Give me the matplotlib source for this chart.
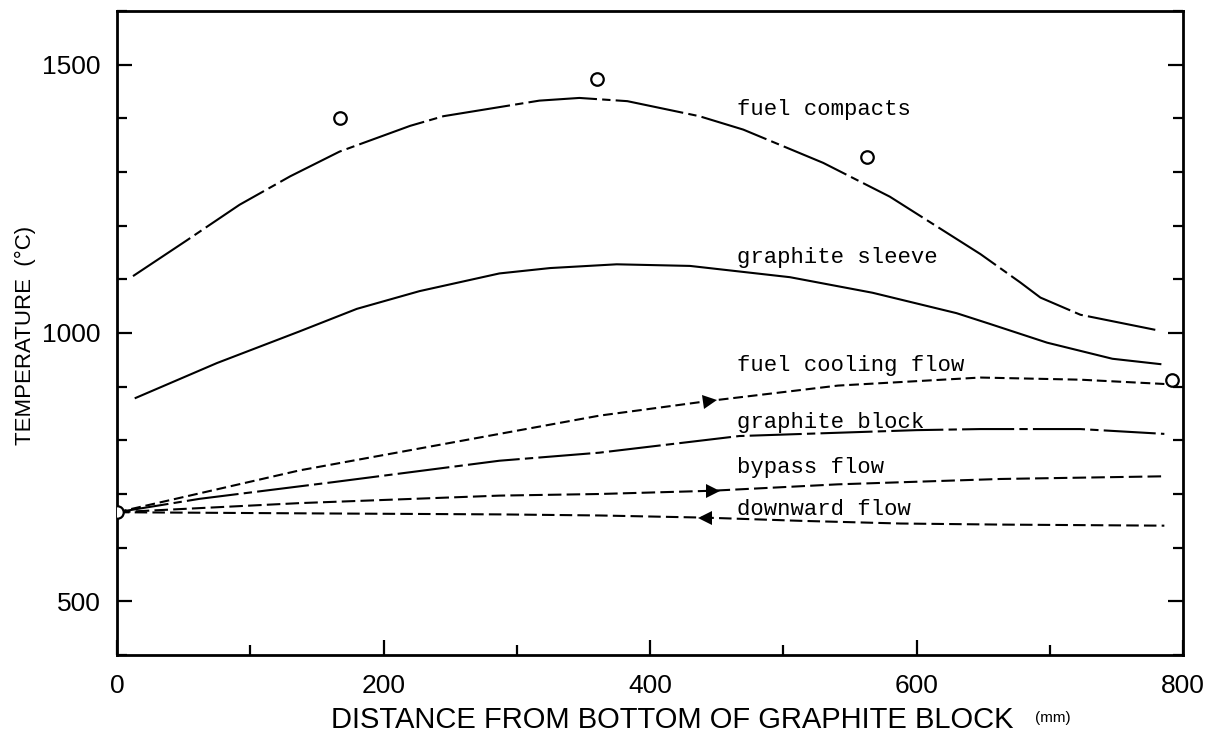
import numpy as np
import matplotlib
matplotlib.use("Agg")
import matplotlib.pyplot as plt
from matplotlib.markers import MarkerStyle
from matplotlib.transforms import Affine2D

# temperature profiles along the block (mm, degC)
fuel_x = [12, 52, 92, 130, 167, 220, 245, 317, 347, 383, 437, 470, 530, 580, 648, 678, 693, 723, 783]
fuel_y = [1106, 1172, 1239, 1292, 1338, 1386, 1404, 1433, 1438, 1432, 1404, 1379, 1317, 1254, 1147, 1094, 1066, 1034, 1004]

sleeve_x = [14, 75, 137, 180, 227, 287, 325, 375, 430, 505, 567, 630, 655, 698, 747, 783]
sleeve_y = [879, 944, 1003, 1045, 1078, 1111, 1121, 1128, 1125, 1104, 1075, 1037, 1017, 982, 952, 942]

cool_x = [0, 37, 137, 212, 287, 362, 443, 541, 648, 723, 786]
cool_y = [666, 687, 744, 778, 812, 846, 873, 902, 917, 913, 905]

block_x = [0, 62, 162, 287, 362, 467, 600, 648, 723, 786]
block_y = [666, 691, 722, 762, 777, 808, 819, 821, 821, 812]

bypass_x = [0, 137, 287, 362, 446, 541, 663, 786]
bypass_y = [666, 683, 697, 700, 706, 718, 728, 733]

down_x = [0, 137, 287, 362, 441, 513, 588, 663, 786]
down_y = [666, 664, 662, 660, 656, 650, 645, 643, 641]

# measured values
meas_x = [0, 167, 360, 563, 792]
meas_y = [666, 1400, 1474, 1328, 912]

fig = plt.figure(figsize=(12.14, 7.44), dpi=100)
ax = fig.add_axes([117 / 1214, 89 / 744, 1066 / 1214, 644 / 744])
ax.set_xlim(0, 800)
ax.set_ylim(400, 1600)

lw = 1.5
ax.plot(fuel_x, fuel_y, color="black", lw=lw, dashes=(33, 2.5, 4, 2.5))
ax.plot(sleeve_x, sleeve_y, color="black", lw=lw)
ax.plot(cool_x, cool_y, color="black", lw=lw, dashes=(4.7, 2.3))
ax.plot(block_x, block_y, color="black", lw=lw, dashes=(25, 2.5, 4, 2.5))
ax.plot(bypass_x, bypass_y, color="black", lw=lw, dashes=(6.5, 2.5))
ax.plot(down_x, down_y, color="black", lw=lw, dashes=(6, 2.5))

ax.plot(meas_x, meas_y, "o", ms=9, mfc="white", mec="black", mew=1.6, zorder=5)


def arrow_on(xs, ys, xa, left=False):
    ya = np.interp(xa, xs, ys)
    p0 = ax.transData.transform((xa - 10, np.interp(xa - 10, xs, ys)))
    p1 = ax.transData.transform((xa + 10, np.interp(xa + 10, xs, ys)))
    ang = np.degrees(np.arctan2(p1[1] - p0[1], p1[0] - p0[0]))
    if left:
        ang += 180
    m = MarkerStyle(">", transform=Affine2D().rotate_deg(ang))
    ax.plot([xa], [ya], marker=m, ms=10, color="black", mew=0, zorder=4)


arrow_on(cool_x, cool_y, 445)
arrow_on(bypass_x, bypass_y, 447)
arrow_on(down_x, down_y, 441, left=True)

labels = ["fuel compacts", "graphite sleeve", "fuel cooling flow",
          "graphite block", "bypass flow", "downward flow"]
label_y = [1416, 1140, 939, 834, 750, 672]
for t, yy in zip(labels, label_y):
    ax.text(465, yy, t, family="Liberation Mono", fontsize=16, va="center", ha="left")

# axes frame and ticks
for s in ax.spines.values():
    s.set_linewidth(2)
ax.set_xticks([0, 200, 400, 600, 800])
ax.set_xticks(np.arange(0, 801, 100), minor=True)
ax.set_yticks([500, 1000, 1500])
ax.set_yticks(np.arange(400, 1601, 100), minor=True)
ax.tick_params(which="both", direction="in", width=1.6, right=True, top=False)
ax.tick_params(which="major", length=11)
ax.tick_params(which="minor", length=7)
ax.tick_params(axis="x", pad=14)
ax.tick_params(axis="y", pad=12)
for lab in ax.get_xticklabels() + ax.get_yticklabels():
    lab.set_family("Liberation Sans")
    lab.set_fontsize(19)

fig.text(672 / 1214, 1 - 720 / 744, "DISTANCE FROM BOTTOM OF GRAPHITE BLOCK",
         family="Liberation Sans", fontsize=21, ha="center", va="center")
fig.text(1053 / 1214, 1 - 718 / 744, "(mm)", family="Liberation Sans",
         fontsize=11, ha="center", va="center")
fig.text(25 / 1214, 1 - 335 / 744, "TEMPERATURE  (\u00b0C)", family="Liberation Sans",
         fontsize=16, rotation=90, ha="center", va="center")

fig.savefig("out.png", dpi=100)
